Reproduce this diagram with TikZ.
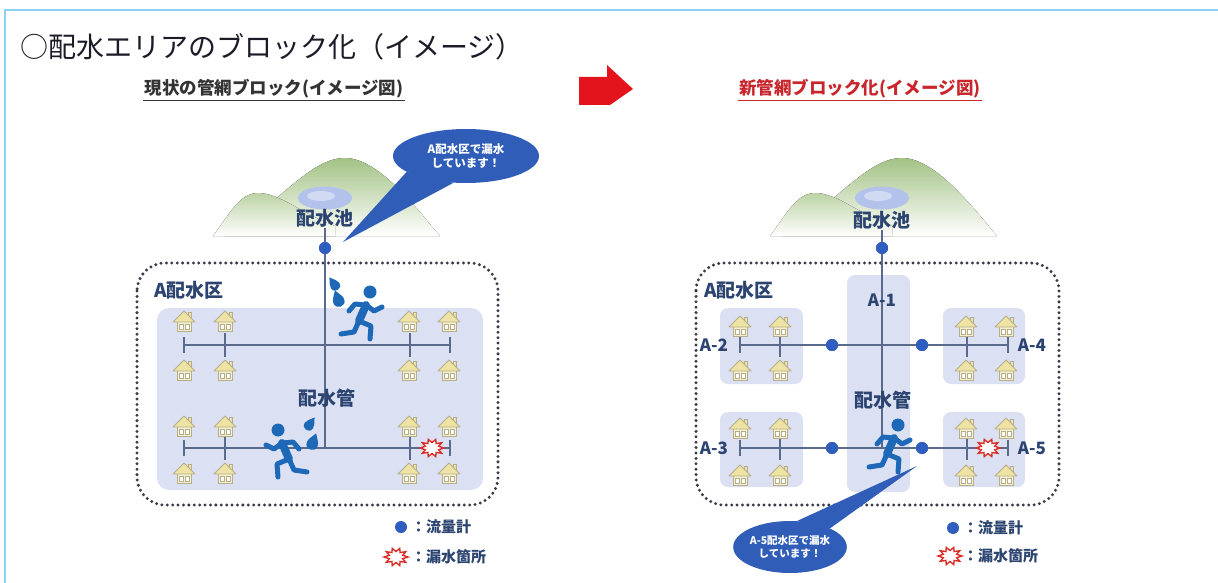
\documentclass[tikz,border=0pt]{standalone}
\usepackage{fontspec}
\setmainfont{Noto Sans CJK JP}
\usetikzlibrary{shapes.geometric,calc}

\definecolor{framecol}{HTML}{8CD2F2}
\definecolor{titlecol}{HTML}{1C1C28}
\definecolor{navy}{HTML}{2C4470}
\definecolor{meterblue}{HTML}{2F5EC0}
\definecolor{pipecol}{HTML}{5A6A8C}
\definecolor{blockcol}{HTML}{DCE0F3}
\definecolor{runblue}{HTML}{1E68B8}
\definecolor{leakred}{HTML}{D9302A}
\definecolor{callblue}{HTML}{2F5DB8}
\definecolor{subred}{HTML}{C8262C}
\definecolor{subgray}{HTML}{333333}
\definecolor{arrowred}{HTML}{E3141C}
\definecolor{mtn}{HTML}{A3C285}
\definecolor{mtnlight}{HTML}{BCD3A4}
\definecolor{pond}{HTML}{B3C2EA}
\definecolor{houseroof}{HTML}{EEE3A2}
\definecolor{housewall}{HTML}{F6F1CC}
\definecolor{houseline}{HTML}{B5AE8E}
\definecolor{dotcol}{HTML}{3A3B48}

\tikzset{
  meter/.style={circle,fill=meterblue,inner sep=0pt,minimum size=12pt},
  pipe/.style={draw=pipecol,line width=1.6pt},
  blockarea/.style={fill=blockcol,rounded corners=8pt},
  zone/.style={draw=dotcol,line width=3.3pt,line cap=round,dash pattern=on 0pt off 5.4pt,rounded corners=28pt},
  place/.style={text=navy,font=\bfseries\fontsize{19}{21}\selectfont,inner sep=1pt},
  blocklabel/.style={text=navy,font=\bfseries\fontsize{17}{19}\selectfont,inner sep=1pt},
  legendtext/.style={text=navy,font=\bfseries\fontsize{15}{17}\selectfont,anchor=west,inner sep=0pt},
  callout/.style={ellipse,fill=callblue,inner sep=0pt,text=white,align=center,
    font=\bfseries\fontsize{11.5}{14}\selectfont},
  endtick/.pic={\draw[pipecol,line width=1.6pt] (0,-8) -- (0,8);},
  branchtick/.pic={\draw[pipecol,line width=1.6pt] (0,-12) -- (0,12);},
  house/.pic={
    \path[fill=housewall,draw=houseline,line width=0.8pt] (-7,-1) rectangle (7,10);
    \path[fill=houseroof,draw=houseline,line width=0.8pt] (4,-9) rectangle (7,-3);
    \path[fill=houseroof,draw=houseline,line width=0.8pt,line join=round] (-11,1) -- (0,-10) -- (11,1) -- cycle;
    \path[fill=white,draw=houseline,line width=0.6pt] (-5,3) rectangle (-1,8) (1,3) rectangle (5,8);
  },
  leak/.pic={
    \draw[leakred,fill=white,line width=1.4pt,line join=miter]
      (0:12 and 9) \foreach \a in {18,54,...,342}{ -- (\a:7 and 5.5) -- ({\a+18}:12 and 9)} -- cycle;
  },
  runner/.pic={
    \fill[runblue] (9,-21) circle (6.5);
    \draw[runblue,line width=8pt,line cap=round] (5,-8) -- (-2,8);
    \draw[runblue,line width=5pt,line cap=round,line join=round]
      (5,-8) -- (13,-2) -- (21,-6)
      (4,-8) -- (-6,-9) -- (-12,-2)
      (-2,8) -- (10,13) -- (9,26)
      (-2,8) -- (-7,19) -- (-20,21);
  },
  drop/.pic={
    \fill[runblue] (0,-8) .. controls (3,-3) and (5,-1) .. (5,2)
      .. controls (5,5.5) and (2.5,7) .. (0,7)
      .. controls (-2.5,7) and (-5,5.5) .. (-5,2)
      .. controls (-5,-1) and (-3,-3) .. cycle;
  },
}

% hills with the reservoir, drawn around the reservoir centre
\newcommand{\hillsandpond}{%
  \fill[top color=mtn,bottom color=white]
    (-100,38) .. controls (-45,5) and (-15,-40) .. (20,-40)
    .. controls (55,-40) and (95,15) .. (115,38) -- cycle;
  \fill[top color=mtnlight,bottom color=white]
    (-112,38) .. controls (-95,15) and (-85,-5) .. (-67,-5)
    .. controls (-45,-5) and (-25,15) .. (10,28) -- (10,38) -- cycle;
  \fill[pond] (0,0) ellipse (27 and 11.5);
  \fill[pond!60!white] (-4,-2) ellipse (14 and 5);
}

\begin{document}
\begin{tikzpicture}[x=1pt,y=-1pt]
\useasboundingbox (0,0) rectangle (1218,583);
\fill[white] (0,0) rectangle (1218,583);

% page frame
\draw[framecol,line width=2pt] (5,583) -- (5,10) -- (1218,10);

% heading
\node[anchor=west,inner sep=0pt,text=titlecol,font=\fontsize{28}{30}\selectfont] (title) at (20,47)
  {○配水エリアのブロック化（イメージ）};

% panel headings
\node[inner sep=1pt,text=subgray,font=\bfseries\fontsize{17.5}{20}\selectfont] (subL) at (274,89)
  {現状の管網ブロック(イメージ図)};
\draw[subgray,line width=1.2pt] ($(subL.south west)+(0,1)$) -- ($(subL.south east)+(0,1)$);
\node[inner sep=1pt,text=subred,font=\bfseries\fontsize{17.5}{20}\selectfont] (subR) at (860,89)
  {新管網ブロック化(イメージ図)};
\draw[subred,line width=1.2pt] ($(subR.south west)+(0,1)$) -- ($(subR.south east)+(0,1)$);

% arrow between the two panels
\fill[arrowred] (579,77) -- (607,77) -- (607,65) -- (633,89) -- (610,105) -- (579,105) -- cycle;

% ================= present network =================
\begin{scope}[shift={(325,198)}]
  \hillsandpond
\end{scope}

\fill[blockarea,rounded corners=12pt] (157,308) rectangle (483,490);
\draw[zone] (137,263) rectangle (498,505);

\node[place] (tankL) at (325,218) {配水池};
\node[meter] (mL0) at (325,248) {};
\coordinate (jL1) at (325,345);
\coordinate (jL2) at (325,448);
\coordinate (wL1) at (184,345);
\coordinate (eL1) at (450,345);
\coordinate (wL2) at (184,448);
\coordinate (eL2) at (450,448);

\draw[pipe] (tankL.south) -- (mL0);
\draw[pipe] (mL0) -- (jL1) -- (jL2);
\draw[pipe] (wL1) -- (eL1);
\draw[pipe] (wL2) -- (eL2);
\foreach \p in {wL1,eL1,wL2,eL2} \pic at (\p) {endtick};
\foreach \x in {225,410} {
  \pic at (\x,345) {branchtick};
  \pic at (\x,448) {branchtick};
}
\foreach \x in {184,225,409,449}
  \foreach \y in {321,370,426,473}
    \pic at (\x,\y) {house};
\node[meter] at (325,248) {};

\node[place] (zoneL) at (189,290) {A配水区};
\node[place] (mainL) at (327,398) {配水管};

\pic at (432,448) {leak};

\pic at (361,313) {runner};
\pic[rotate=35] at (334,284) {drop};
\pic[rotate=20,scale=1.15] at (338,299) {drop};
\pic[xscale=-1] at (287,451) {runner};
\pic[rotate=-35] at (310,424) {drop};
\pic[rotate=-20,scale=1.15] at (313,442) {drop};

% callout: leak somewhere in zone A
\node[callout,minimum width=146pt,minimum height=54pt] (callL) at (466,156) {A配水区で漏水\\しています！};
\coordinate (tipL) at (343,242);
\fill[callblue] (callL.195) -- (tipL) -- (callL.245) -- cycle;

% legend
\node[meter] (legmL) at (401,527) {};
\node[legendtext] at (411,527) {：流量計};
\pic at (396,557) {leak};
\node[legendtext] at (411,557) {：漏水箇所};

% ================= new block network =================
\begin{scope}[shift={(882,198)}]
  \hillsandpond
\end{scope}

\fill[blockarea] (847,275) rectangle (910,492);
\fill[blockarea] (720,308) rectangle (803,384);
\fill[blockarea] (943,308) rectangle (1025,384);
\fill[blockarea] (720,412) rectangle (803,487);
\fill[blockarea] (943,412) rectangle (1025,487);
\draw[zone] (696,263) rectangle (1059,505);

\node[place] (tankR) at (882,220) {配水池};
\node[meter] (mR0) at (882,248) {};
\node[meter] (m2) at (832,345) {};
\node[meter] (m4) at (922,345) {};
\node[meter] (m3) at (832,448) {};
\node[meter] (m5) at (922,448) {};
\coordinate (jR1) at (882,345);
\coordinate (jR2) at (882,448);
\coordinate (wR1) at (740,345);
\coordinate (eR1) at (1008,345);
\coordinate (wR2) at (740,448);
\coordinate (eR2) at (1008,448);

\draw[pipe] (tankR.south) -- (mR0);
\draw[pipe] (mR0) -- (jR1) -- (jR2);
\draw[pipe] (wR1) -- (m2) -- (jR1) -- (m4) -- (eR1);
\draw[pipe] (wR2) -- (m3) -- (jR2) -- (m5) -- (eR2);
\foreach \p in {wR1,eR1,wR2,eR2} \pic at (\p) {endtick};
\foreach \x in {780,967} {
  \pic at (\x,345) {branchtick};
  \pic at (\x,448) {branchtick};
}
\foreach \x in {740,780,966,1006} {
  \foreach \y in {326,370} \pic at (\x,\y) {house};
  \foreach \y in {428,475} \pic at (\x,\y) {house};
}
\foreach \m/\x/\y in {mR0/882/248,m2/832/345,m4/922/345,m3/832/448,m5/922/448}
  \node[meter] at (\x,\y) {};

\node[place] (zoneR) at (739,290) {A配水区};
\node[place] (mainR) at (883,400) {配水管};
\node[blocklabel] (A1) at (882,300) {A-1};
\node[blocklabel] (A2) at (714,345) {A-2};
\node[blocklabel] (A3) at (714,448) {A-3};
\node[blocklabel] (A4) at (1032,345) {A-4};
\node[blocklabel] (A5) at (1032,448) {A-5};

\pic at (988,448) {leak};
\pic at (889,446) {runner};

% callout: leak located in block A-5
\node[callout,font=\bfseries\fontsize{10.5}{13}\selectfont,minimum width=112pt,minimum height=52pt] (callR) at (790,547) {A-5配水区で漏水\\しています！};
\coordinate (tipR) at (917,466);
\fill[callblue] (callR.75) -- (tipR) -- (callR.25) -- cycle;

% legend
\node[meter] (legmR) at (953,528) {};
\node[legendtext] at (963,528) {：流量計};
\pic at (950,556) {leak};
\node[legendtext] at (963,556) {：漏水箇所};
\end{tikzpicture}
\end{document}
